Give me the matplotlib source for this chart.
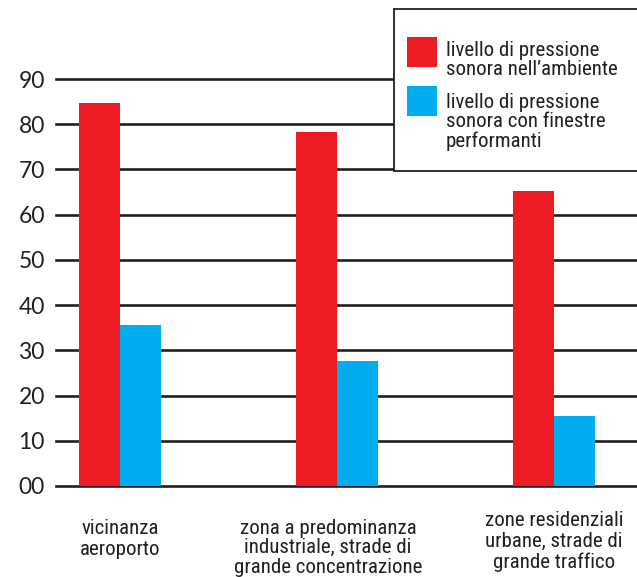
import matplotlib
matplotlib.use("Agg")
import matplotlib.pyplot as plt
from matplotlib.patches import Rectangle
import numpy as np

categories = ["vicinanza\naeroporto",
              "zona a predominanza\nindustriale, strade di\ngrande concentrazione",
              "zone residenziali\nurbane, strade di\ngrande traffico"]
ambiente = [84.6, 78.2, 65.2]
finestre = [35.6, 27.7, 15.5]
series_labels = ["livello di pressione\nsonora nell\u2019ambiente",
                 "livello di pressione\nsonora con finestre\nperformanti"]
yticks = [0, 10, 20, 30, 40, 50, 60, 70, 80, 90]
ytick_labels = ["00", "10", "20", "30", "40", "50", "60", "70", "80", "90"]

RED = "#ED1C24"
BLUE = "#00AEEF"
INK = "#231F20"
COND = ["Roboto Condensed", "Archivo Narrow", "DejaVu Sans"]

W, H = 637, 577
fig = plt.figure(figsize=(W / 100, H / 100), dpi=100)
ax = fig.add_axes([56 / W, (H - 486) / H, (W - 56) / W, (486 - 79) / H])

x = np.arange(len(categories))
bw = 0.19
b1 = ax.bar(x - bw / 2, ambiente, bw, color=RED, zorder=3)
b2 = ax.bar(x + bw / 2, finestre, bw, color=BLUE, zorder=3)

ax.set_ylim(0, 90)
ax.set_xlim(-0.295, 2.382)
for t in yticks:
    ax.axhline(t, color=INK, lw=1.9, zorder=1, clip_on=False)

ax.set_yticks(yticks)
ax.set_yticklabels(ytick_labels, family="Lato", fontsize=16.5, color=INK)
ax.tick_params(axis="y", length=0, pad=8)
ax.set_xticks([])
for s in ax.spines.values():
    s.set_visible(False)

# category labels (offsets in pixels of the last baseline from the group centre at y=0)
dxs = [0, -9, 0]
dys = [-69, -87, -82]
lsp = [1.15, 1.05, 1.12]
for i, lab in enumerate(categories):
    ax.annotate(lab, xy=(x[i], 0), xycoords="data",
                xytext=(dxs[i], dys[i]), textcoords="offset pixels",
                ha="center", va="baseline", multialignment="center",
                family=COND, fontsize=15, color=INK, linespacing=lsp[i],
                annotation_clip=False)

# legend box (manual)
fig.patches.append(Rectangle((394 / W, (H - 171) / H), (W - 394 + 10) / W, 162 / H,
                             transform=fig.transFigure, facecolor="white",
                             edgecolor=INK, lw=1.3, zorder=10))
handles = [b1.patches[0].get_facecolor(), b2.patches[0].get_facecolor()]
sw_y = [37, 86]
base_y = [75, 147]
for c, sy, by, lab in zip(handles, sw_y, base_y, series_labels):
    fig.patches.append(Rectangle((407 / W, (H - sy - 30) / H), 30 / W, 30 / H,
                                 transform=fig.transFigure, facecolor=c,
                                 edgecolor="none", zorder=11))
    fig.text(446 / W, (H - by) / H, lab, ha="left", va="baseline",
             family=COND, fontsize=15, color=INK, linespacing=1.02, zorder=12)

fig.savefig("out.png", dpi=100, facecolor="white")
